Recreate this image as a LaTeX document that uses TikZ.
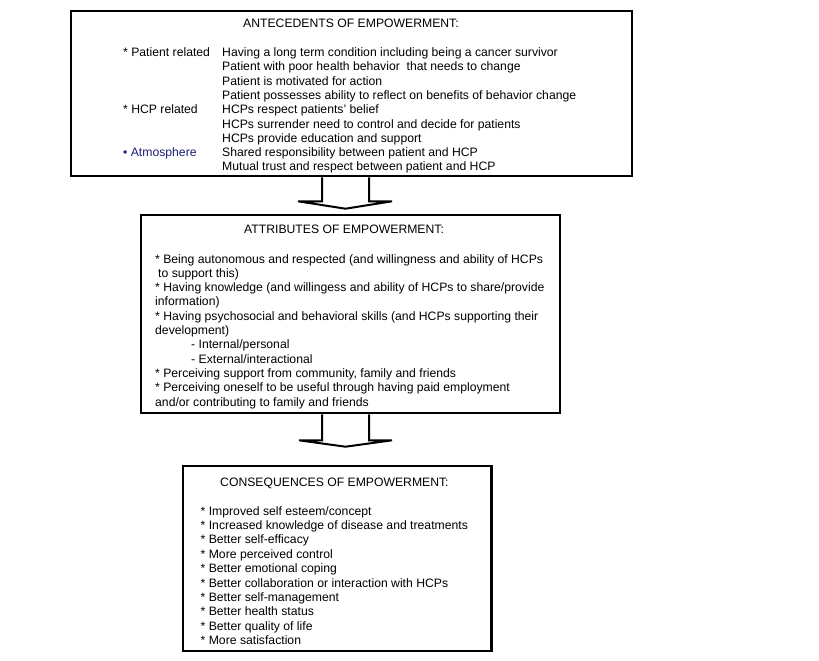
\documentclass[tikz,border=0pt]{standalone}
\usepackage{fontspec}
\setmainfont{Liberation Sans}
\usetikzlibrary{calc}
\definecolor{navy}{RGB}{30,30,120}
\begin{document}
\begin{tikzpicture}[x=1pt,y=-1pt,
 box/.style={draw=black, line width=2.6pt, inner sep=0pt},
 txt/.style={anchor=base west, inner sep=0pt, font=\fontsize{12.2}{14}\selectfont},
 blockarrow/.style={draw=black, line width=2pt, line join=miter}]
\fill[white] (0,0) rectangle (819,661);
\useasboundingbox (0,0) rectangle (819,661);
% boxes
\node[box, minimum width=561pt, minimum height=165pt] (ante) at (351.5,93.5) {};
\node[box, minimum width=419pt, minimum height=198pt] (attr) at (350.5,314) {};
\node[box, minimum width=308.5pt, minimum height=185pt] (cons) at (337.25,558.5) {};
% top box text
\node[txt] (t0) at (243,27.5) {ANTECEDENTS OF EMPOWERMENT:};
\node[txt] (l1) at (123,56.5) {* Patient related};
\node[txt] (l2) at (123,113.7) {* HCP related};
\node[txt, text=navy] (l3) at (123,156.6) {• Atmosphere};
\node[txt] (r1) at (222,56.5) {Having a long term condition including being a cancer survivor};
\node[txt] (r2) at (222,70.8) {Patient with poor health behavior\ \ that needs to change};
\node[txt] (r3) at (222,85.1) {Patient is motivated for action};
\node[txt] (r4) at (222,99.4) {Patient possesses ability to reflect on benefits of behavior change};
\node[txt] (r5) at (222,113.7) {HCPs respect patients' belief};
\node[txt] (r6) at (222,128) {HCPs surrender need to control and decide for patients};
\node[txt] (r7) at (222,142.3) {HCPs provide education and support};
\node[txt] (r8) at (222,156.6) {Shared responsibility between patient and HCP};
\node[txt] (r9) at (222,170.9) {Mutual trust and respect between patient and HCP};
% middle box text
\node[txt] (m0) at (244,233) {ATTRIBUTES OF EMPOWERMENT:};
\node[txt] (m1) at (155,263) {* Being autonomous and respected (and willingness and ability of HCPs};
\node[txt] (m2) at (158,277.3) {to support this)};
\node[txt] (m3) at (155,291.6) {* Having knowledge (and willingess and ability of HCPs to share/provide};
\node[txt] (m4) at (155,305.9) {information)};
\node[txt] (m5) at (155,320.2) {* Having psychosocial and behavioral skills (and HCPs supporting their};
\node[txt] (m6) at (155,334.5) {development)};
\node[txt] (m7) at (191,348.8) {- Internal/personal};
\node[txt] (m8) at (191,363.1) {- External/interactional};
\node[txt] (m9) at (155,377.4) {* Perceiving support from community, family and friends};
\node[txt] (m10) at (155,391.7) {* Perceiving oneself to be useful through having paid employment};
\node[txt] (m11) at (155,406) {and/or contributing to family and friends};
% bottom box text
\node[txt] (c0) at (220,486) {CONSEQUENCES OF EMPOWERMENT:};
\node[txt] (c1) at (200.5,515) {* Improved self esteem/concept};
\node[txt] (c2) at (200.5,529.4) {* Increased knowledge of disease and treatments};
\node[txt] (c3) at (200.5,543.8) {* Better self-efficacy};
\node[txt] (c4) at (200.5,558.2) {* More perceived control};
\node[txt] (c5) at (200.5,572.6) {* Better emotional coping};
\node[txt] (c6) at (200.5,587) {* Better collaboration or interaction with HCPs};
\node[txt] (c7) at (200.5,601.4) {* Better self-management};
\node[txt] (c8) at (200.5,615.8) {* Better health status};
\node[txt] (c9) at (200.5,630.2) {* Better quality of life};
\node[txt] (c10) at (200.5,644.6) {* More satisfaction};
% block arrows
\coordinate (ax) at (345.5,0);
\draw[blockarrow] ($(ante.south -| ax)+(-23.5,0)$) -- ++(0,24) -- ++(-24,0)
  -- ($(attr.north -| ax)+(0,-5)$) -- ($(ante.south -| ax)+(46.5,24)$) -- ++(-23,0)
  -- ($(ante.south -| ax)+(23.5,0)$);
\draw[blockarrow] ($(attr.south -| ax)+(-23.5,0)$) -- ++(0,26) -- ++(-23,0)
  -- ($(cons.north -| ax)+(0,-18)$) -- ($(attr.south -| ax)+(46.5,26)$) -- ++(-23,0)
  -- ($(attr.south -| ax)+(23.5,0)$);
\end{tikzpicture}
\end{document}
